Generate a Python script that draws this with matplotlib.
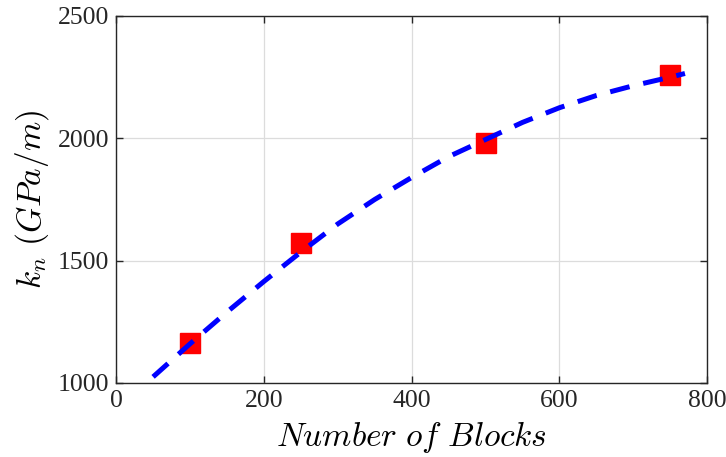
import numpy as np
import matplotlib
matplotlib.use('Agg')
import matplotlib.pyplot as plt

## ---- data ---- ##
blocks = [100, 250, 500, 750]
kn = [1163, 1572, 1981, 2259]

# dashed fit curve, sampled by eye
fit_x = [50, 100, 150, 200, 250, 300, 350, 400, 450, 500, 550, 600, 650, 700, 750, 770]
fit_y = [1025, 1160, 1290, 1415, 1535, 1650, 1750, 1840, 1925, 1995, 2065, 2125, 2175, 2215, 2250, 2265]

xticks = [0, 200, 400, 600, 800]
yticks = [1000, 1500, 2000, 2500]

plt.rcParams['font.family'] = ['Liberation Serif', 'DejaVu Serif']
plt.rcParams['mathtext.fontset'] = 'cm'

fig = plt.figure(figsize=(7.26, 4.57), dpi=100)
ax = fig.add_axes([0.160, 0.162, 0.814, 0.803])

ax.plot(fit_x, fit_y, color='#0000ff', lw=3.6, dashes=(4.0, 2.8),
        dash_capstyle='butt', zorder=3)
ax.plot(blocks, kn, 's', color='#ff0000', ms=14.5, mec='#ff0000', zorder=2)

ax.set_xlim(0, 800)
ax.set_ylim(1000, 2500)
ax.set_xticks(xticks)
ax.set_yticks(yticks)
ax.grid(True, color='#dcdcdc', lw=0.9)
ax.set_axisbelow(True)

ax.tick_params(direction='in', length=5, width=1, colors='#262626',
               top=True, right=True, labelsize=18.5)
ax.tick_params(axis='x', pad=5)
ax.tick_params(axis='y', pad=5)
for s in ax.spines.values():
    s.set_color('#262626')
    s.set_linewidth(1.0)

ax.set_xlabel(r'$Number\ of\ Blocks$', fontsize=24, labelpad=5)
ax.set_ylabel(r'$k_n\ (GPa/m)$', fontsize=24, labelpad=5)

fig.savefig('out.png', dpi=100)
